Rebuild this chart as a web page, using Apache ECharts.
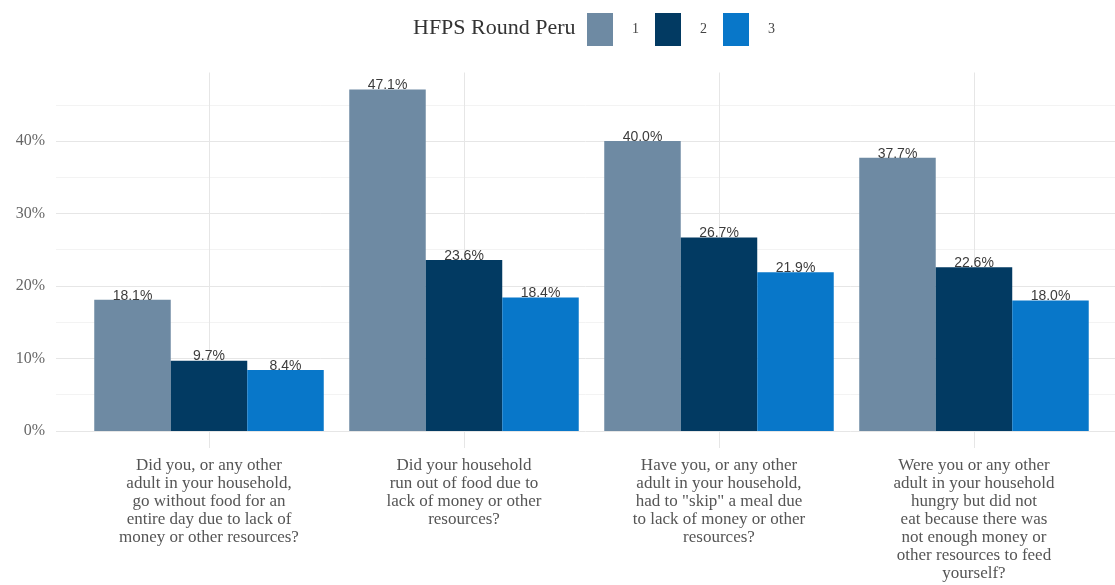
<!DOCTYPE html>
<html>
<head>
<meta charset="utf-8">
<script src="https://cdn.jsdelivr.net/npm/echarts@6/dist/echarts.min.js"></script>
<style>
  html, body { margin: 0; padding: 0; background: #ffffff; }
  #chart { width: 1115px; height: 585px; }
</style>
</head>
<body>
<div id="chart"></div>
<script>
// Food insecurity questions asked in each HFPS round (Peru)
const categories = [
  'Did you, or any other\nadult in your household,\ngo without food for an\nentire day due to lack of\nmoney or other resources?',
  'Did your household\nrun out of food due to\nlack of money or other\nresources?',
  'Have you, or any other\nadult in your household,\nhad to "skip" a meal due\nto lack of money or other\nresources?',
  'Were you or any other\nadult in your household\nhungry but did not\neat because there was\nnot enough money or\nother resources to feed\nyourself?'
];
const rounds = ['1', '2', '3'];
const round1 = [18.1, 47.1, 40.0, 37.7];
const round2 = [9.7, 23.6, 26.7, 22.6];
const round3 = [8.4, 18.4, 21.9, 18.0];
const yTickLabels = [0, 10, 20, 30, 40];
const yGridValues = [0, 5, 10, 15, 20, 25, 30, 35, 40, 45];

const colors = ['#6e8aa3', '#023a62', '#0877c9'];
const serif = '"Liberation Serif", "DejaVu Serif", serif';
const sans = '"Liberation Sans", Arial, sans-serif';

// ggplot-like padding: 5% above/below the data range, 0.6 bands on the left;
// the panel is cut off by the right edge of the canvas
const dataMax = Math.max(...round1, ...round2, ...round3);
const yMin = -dataMax * 0.05;
const yMax = dataMax * 1.05;
const xPositions = categories.map((c, i) => i + 1);
const xMin = 0.4;
const xMax = categories.length + 0.553;

function seriesOf(name, values, color) {
  return {
    name: name,
    type: 'bar',
    barGap: 0,
    barCategoryGap: '10%',
    itemStyle: { color: color },
    data: values.map((v, i) => [xPositions[i], v]),
    label: {
      show: true,
      position: 'top',
      distance: -3,
      formatter: p => p.value[1].toFixed(1) + '%',
      fontFamily: sans,
      fontSize: 14,
      color: '#3c3c3c'
    }
  };
}

const chart = echarts.init(document.getElementById('chart'), null, { renderer: 'canvas' });
chart.setOption({
  backgroundColor: '#ffffff',
  animation: false,
  title: {
    text: 'HFPS Round Peru',
    left: 408,
    top: 12,
    textStyle: { fontFamily: serif, fontSize: 22, fontWeight: 'normal', color: '#333333' }
  },
  legend: {
    data: rounds,
    left: 582,
    top: 8,
    itemWidth: 26,
    itemHeight: 33,
    itemGap: 16,
    icon: 'rect',
    textStyle: { fontFamily: serif, fontSize: 14, color: '#444444', padding: [0, 0, 0, 14] }
  },
  grid: { left: 56, right: 0, top: 72.5, bottom: 137 },
  xAxis: {
    type: 'value',
    min: xMin,
    max: xMax,
    axisLine: { show: false },
    axisTick: { show: false, customValues: xPositions },
    splitLine: { show: true, lineStyle: { color: '#e6e6e6', width: 1 } },
    axisLabel: {
      customValues: xPositions,
      formatter: v => categories[Math.round(v) - 1] || '',
      fontFamily: serif,
      fontSize: 17,
      lineHeight: 18,
      color: '#555555',
      align: 'center',
      verticalAlign: 'top',
      margin: 9
    }
  },
  yAxis: {
    type: 'value',
    min: yMin,
    max: yMax,
    axisLine: { show: false },
    axisTick: { show: false, customValues: yGridValues },
    splitLine: { show: true, lineStyle: { color: ['#e6e6e6', '#f3f3f3'], width: 1 } },
    axisLabel: {
      customValues: yTickLabels,
      formatter: v => v + '%',
      fontFamily: serif,
      fontSize: 16,
      color: '#666666',
      margin: 11
    }
  },
  series: [
    seriesOf(rounds[0], round1, colors[0]),
    seriesOf(rounds[1], round2, colors[1]),
    seriesOf(rounds[2], round3, colors[2])
  ]
});
</script>
</body>
</html>
